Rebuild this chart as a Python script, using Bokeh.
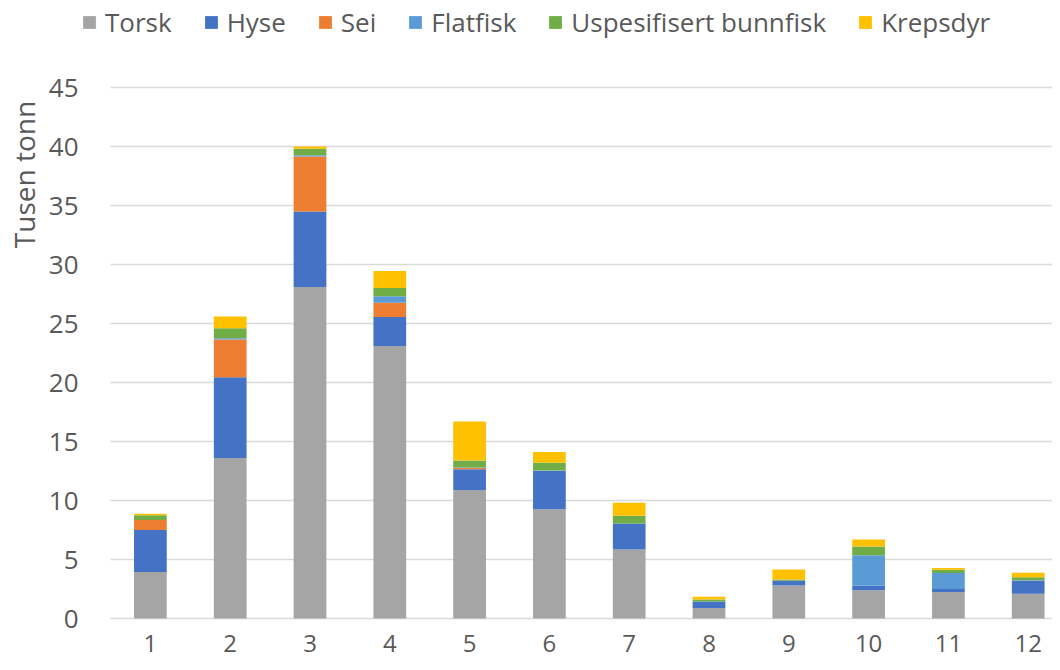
import math
from bokeh.plotting import figure
from bokeh.models import Range1d, FixedTicker, Legend, LegendItem, Label
from bokeh.embed import file_html
from bokeh.resources import INLINE

# ---- data (thousand tonnes) ----
months = [1, 2, 3, 4, 5, 6, 7, 8, 9, 10, 11, 12]
tick_labels = ["1", "2", "3", "4", "5", "6", "7", "8", "9", "10", "11", "12"]
y_ticks = [0, 5, 10, 15, 20, 25, 30, 35, 40, 45]
series = ["Torsk", "Hyse", "Sei", "Flatfisk", "Uspesifisert bunnfisk", "Krepsdyr"]
colors = ["#A5A5A5", "#4472C4", "#ED7D31", "#5B9BD5", "#70AD47", "#FFC000"]

torsk = [3.95, 13.6, 28.1, 23.1, 10.9, 9.25, 5.85, 0.9, 2.8, 2.4, 2.25, 2.1]
hyse = [3.55, 6.85, 6.4, 2.45, 1.75, 3.25, 2.2, 0.55, 0.4, 0.4, 0.25, 1.1]
sei = [0.85, 3.2, 4.65, 1.2, 0.1, 0.0, 0.0, 0.0, 0.0, 0.0, 0.0, 0.0]
flatfisk = [0.0, 0.1, 0.1, 0.55, 0.05, 0.05, 0.0, 0.0, 0.0, 2.55, 1.35, 0.05]
bunnfisk = [0.4, 0.85, 0.55, 0.7, 0.6, 0.65, 0.65, 0.17, 0.1, 0.75, 0.28, 0.25]
krepsdyr = [0.12, 1.0, 0.2, 1.45, 3.3, 0.9, 1.1, 0.22, 0.85, 0.6, 0.14, 0.37]

source = {
    "month": months,
    "Torsk": torsk,
    "Hyse": hyse,
    "Sei": sei,
    "Flatfisk": flatfisk,
    "Uspesifisert bunnfisk": bunnfisk,
    "Krepsdyr": krepsdyr,
}

FONT = "Open Sans"
TXT = "#595959"
GRID = "#D9D9D9"

# ---- layout constants (pixels) ----
W, H = 1052, 662
PLOT_LEFT = 110        # left edge of the plotting area
PLOT_TOP = 87          # pixel row of the top gridline
ZERO_ROW = 618         # pixel row of the zero line
PX_PER_MONTH = 79.8
y_max = y_ticks[-1]
px_per_unit = (ZERO_ROW - PLOT_TOP) / y_max
x_start = 0.5 - PLOT_LEFT / PX_PER_MONTH
x_end = 0.5 + (W - PLOT_LEFT) / PX_PER_MONTH
y_start = -(H - ZERO_ROW) / px_per_unit
y_end = y_max + PLOT_TOP / px_per_unit

p = figure(
    width=W, height=H,
    output_backend="svg", toolbar_location=None,
    x_range=Range1d(x_start, x_end), y_range=Range1d(y_start, y_end),
    min_border_left=0, min_border_top=0, min_border_right=0, min_border_bottom=0,
)
p.outline_line_color = None
p.xgrid.grid_line_color = None
p.ygrid.grid_line_color = None

# horizontal gridlines spanning only the plotting area
p.segment(x0=0.5, x1=x_end, y0=y_ticks, y1=y_ticks, line_color=GRID, line_width=1.5)

renderers = p.vbar_stack(series, x="month", width=0.41, source=source, color=colors,
                         line_color=None)

# x axis, drawn on the zero line
p.xaxis.fixed_location = 0
p.xaxis.ticker = FixedTicker(ticks=months)
p.xaxis.major_label_overrides = {m: t for m, t in zip(months, tick_labels)}
p.xaxis.axis_line_color = None
p.xaxis.major_tick_line_color = None
p.xaxis.minor_tick_line_color = None
p.xaxis.major_label_text_font = FONT
p.xaxis.major_label_text_font_size = "24px"
p.xaxis.major_label_text_color = TXT
p.xaxis.major_label_standoff = 10

# y axis, drawn at the left edge of the plotting area
p.yaxis.fixed_location = 0.5
p.yaxis.ticker = FixedTicker(ticks=y_ticks)
p.yaxis.axis_line_color = None
p.yaxis.major_tick_line_color = None
p.yaxis.minor_tick_line_color = None
p.yaxis.major_label_text_font = FONT
p.yaxis.major_label_text_font_size = "26px"
p.yaxis.major_label_text_color = TXT
p.yaxis.major_label_standoff = 26

# y axis title, placed near the top like the reference
p.add_layout(Label(x=23, y=H - 174, x_units="screen", y_units="screen",
                   text="Tusen tonn", angle=math.pi / 2,
                   text_align="center", text_baseline="middle",
                   text_font=FONT, text_font_size="28px", text_color=TXT))

# legend on top
legend = Legend(items=[LegendItem(label=s, renderers=[r]) for s, r in zip(series, renderers)],
                orientation="horizontal", location=(81, H - 40),
                border_line_color=None, background_fill_alpha=0,
                padding=0, margin=0, spacing=31, label_standoff=8,
                glyph_width=16, glyph_height=16,
                label_text_font=FONT, label_text_font_size="26px", label_text_color=TXT)
p.add_layout(legend, "center")

open("out.html", "w").write(file_html(p, INLINE))
